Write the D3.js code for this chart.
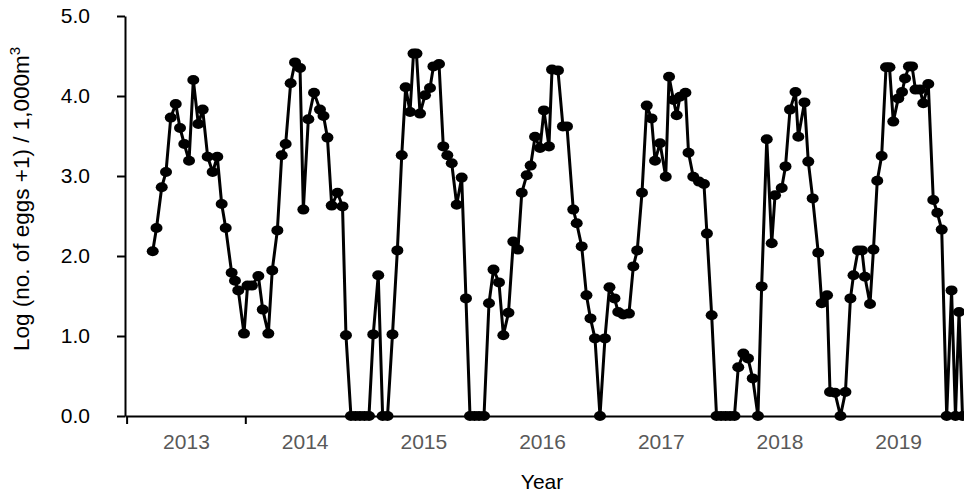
<!DOCTYPE html>
<html>
<head>
<meta charset="utf-8">
<script src="https://cdn.jsdelivr.net/npm/d3@7"></script>
<style>
  body { margin: 0; background: #fff; }
  svg { display: block; font-family: "Liberation Sans", Arial, sans-serif; }
</style>
</head>
<body>
<svg id="chart"></svg>
<script>
// sampling dates (decimal years)
const dates = [
  2013.220, 2013.252, 2013.296, 2013.332, 2013.372, 2013.414, 2013.450, 2013.486, 2013.526, 2013.562,
  2013.604, 2013.641, 2013.683, 2013.725, 2013.764, 2013.801, 2013.835, 2013.885, 2013.913, 2013.941,
  2013.989, 2014.019, 2014.056, 2014.110, 2014.147, 2014.194, 2014.227, 2014.270, 2014.307, 2014.340,
  2014.382, 2014.419, 2014.461, 2014.489, 2014.531, 2014.579, 2014.629, 2014.659, 2014.692, 2014.728,
  2014.777, 2014.819, 2014.848, 2014.890, 2014.928, 2014.966, 2015.004, 2015.042, 2015.078, 2015.120,
  2015.157, 2015.198, 2015.240, 2015.281, 2015.318, 2015.351, 2015.388, 2015.417, 2015.442, 2015.472,
  2015.514, 2015.556, 2015.585, 2015.632, 2015.668, 2015.702, 2015.739, 2015.781, 2015.823, 2015.859,
  2015.893, 2015.931, 2015.969, 2016.011, 2016.053, 2016.091, 2016.137, 2016.174, 2016.217, 2016.258,
  2016.297, 2016.329, 2016.371, 2016.404, 2016.441, 2016.483, 2016.516, 2016.558, 2016.584, 2016.634,
  2016.676, 2016.710, 2016.763, 2016.792, 2016.834, 2016.874, 2016.908, 2016.946, 2016.988, 2017.030,
  2017.068, 2017.110, 2017.142, 2017.184, 2017.232, 2017.269, 2017.302, 2017.342, 2017.382, 2017.422,
  2017.452, 2017.494, 2017.542, 2017.570, 2017.607, 2017.634, 2017.662, 2017.708, 2017.734, 2017.774,
  2017.822, 2017.864, 2017.889, 2017.929, 2017.970, 2018.008, 2018.046, 2018.084, 2018.121, 2018.153,
  2018.196, 2018.235, 2018.275, 2018.319, 2018.350, 2018.393, 2018.435, 2018.463, 2018.519, 2018.551,
  2018.589, 2018.635, 2018.659, 2018.711, 2018.743, 2018.780, 2018.827, 2018.856, 2018.901, 2018.926,
  2018.968, 2019.014, 2019.056, 2019.098, 2019.124, 2019.162, 2019.195, 2019.220, 2019.263, 2019.292,
  2019.324, 2019.361, 2019.398, 2019.427, 2019.459, 2019.501, 2019.533, 2019.558, 2019.591, 2019.617,
  2019.646, 2019.684, 2019.712, 2019.754, 2019.796, 2019.830, 2019.867, 2019.909, 2019.950, 2019.983,
  2020.013, 2020.042
];

// Log (no. of eggs +1) / 1,000 m3
const eggs = [
  2.06, 2.35, 2.86, 3.05, 3.73, 3.90, 3.60, 3.40, 3.19, 4.20,
  3.65, 3.83, 3.24, 3.05, 3.24, 2.65, 2.35, 1.79, 1.69, 1.57,
  1.03, 1.63, 1.63, 1.75, 1.33, 1.03, 1.82, 2.32, 3.26, 3.40,
  4.16, 4.42, 4.35, 2.58, 3.71, 4.04, 3.83, 3.75, 3.48, 2.63,
  2.79, 2.62, 1.01, 0, 0, 0, 0, 0, 1.02, 1.76,
  0, 0, 1.02, 2.07, 3.26, 4.11, 3.80, 4.53, 4.53, 3.78,
  4.01, 4.10, 4.37, 4.40, 3.37, 3.26, 3.16, 2.64, 2.98, 1.47,
  0, 0, 0, 0, 1.41, 1.83, 1.67, 1.01, 1.29, 2.18,
  2.08, 2.79, 3.01, 3.13, 3.49, 3.35, 3.82, 3.37, 4.33, 4.32,
  3.62, 3.62, 2.58, 2.41, 2.12, 1.51, 1.22, 0.97, 0, 0.97,
  1.61, 1.47, 1.30, 1.27, 1.28, 1.87, 2.07, 2.79, 3.88, 3.72,
  3.19, 3.41, 2.99, 4.24, 3.95, 3.76, 3.99, 4.04, 3.29, 2.99,
  2.93, 2.90, 2.28, 1.26, 0, 0, 0, 0, 0, 0.61,
  0.78, 0.72, 0.47, 0, 1.62, 3.46, 2.16, 2.76, 2.85, 3.12,
  3.83, 4.05, 3.49, 3.92, 3.18, 2.72, 2.04, 1.41, 1.51, 0.30,
  0.29, 0, 0.30, 1.47, 1.76, 2.07, 2.07, 1.74, 1.40, 2.08,
  2.94, 3.25, 4.36, 4.36, 3.68, 3.97, 4.05, 4.22, 4.37, 4.37,
  4.08, 4.08, 3.91, 4.15, 2.70, 2.54, 2.33, 0, 1.57, 0,
  1.30, 0
];

const years = [2013, 2014, 2015, 2016, 2017, 2018, 2019];
const yTicks = [0, 1, 2, 3, 4, 5];

const width = 964, height = 500;
const svg = d3.select("#chart").attr("width", width).attr("height", height);

const x = d3.scaleLinear()
  .domain([2012.9865, 2020.0548])
  .range([125, 964]);

const y = d3.scaleLinear()
  .domain([0, 5])
  .range([416, 16]);

const data = dates.map((d, i) => ({ t: d, v: eggs[i] }));

// y axis
const yAxis = svg.append("g")
  .attr("transform", "translate(125,0)")
  .call(d3.axisLeft(y).tickValues(yTicks).tickFormat(d3.format(".1f")).tickSizeInner(8).tickSizeOuter(0).tickPadding(27));
yAxis.select(".domain").attr("stroke", "#000").attr("stroke-width", 2);
yAxis.selectAll(".tick line").attr("stroke", "#000").attr("stroke-width", 2);
yAxis.selectAll(".tick text").attr("font-size", 21).attr("fill", "#000")
  .attr("font-family", "Liberation Sans, Arial, sans-serif");

// x axis: tick marks at year boundaries
const xAxis = svg.append("g")
  .attr("transform", "translate(0,416)")
  .call(d3.axisBottom(x).tickValues([2013, 2014]).tickFormat("").tickSizeInner(8).tickSizeOuter(0));
xAxis.select(".domain").attr("stroke", "#000").attr("stroke-width", 2);
xAxis.selectAll(".tick line").attr("stroke", "#000").attr("stroke-width", 2);

// year labels centred within each year
const xLabels = svg.append("g")
  .attr("transform", "translate(0,416)")
  .call(d3.axisBottom(x).tickValues(years.map(d => d + 0.5)).tickFormat((d, i) => years[i]).tickSize(0).tickPadding(18));
xLabels.select(".domain").remove();
xLabels.selectAll(".tick text").attr("font-size", 21).attr("fill", "#595959")
  .attr("font-family", "Liberation Sans, Arial, sans-serif");

// axis titles
svg.append("text")
  .attr("x", x(2016.5))
  .attr("y", 489)
  .attr("text-anchor", "middle")
  .attr("font-size", 21)
  .attr("fill", "#000")
  .text("Year");

const yTitle = svg.append("text")
  .attr("transform", "translate(29,199) rotate(-90)")
  .attr("text-anchor", "middle")
  .attr("font-size", 22.5)
  .attr("fill", "#000");
yTitle.append("tspan").text("Log (no. of eggs +1) / 1,000m");
yTitle.append("tspan").attr("dy", -9).attr("font-size", 15).text("3");

// line and markers
const line = d3.line().x(d => x(d.t)).y(d => y(d.v));

svg.append("path")
  .datum(data)
  .attr("fill", "none")
  .attr("stroke", "#000")
  .attr("stroke-width", 3)
  .attr("stroke-linejoin", "round")
  .attr("d", line);

svg.selectAll(".dot")
  .data(data)
  .enter()
  .append("ellipse")
  .attr("class", "dot")
  .attr("cx", d => x(d.t))
  .attr("cy", d => y(d.v))
  .attr("rx", 6)
  .attr("ry", 5)
  .attr("fill", "#000");
</script>
</body>
</html>
